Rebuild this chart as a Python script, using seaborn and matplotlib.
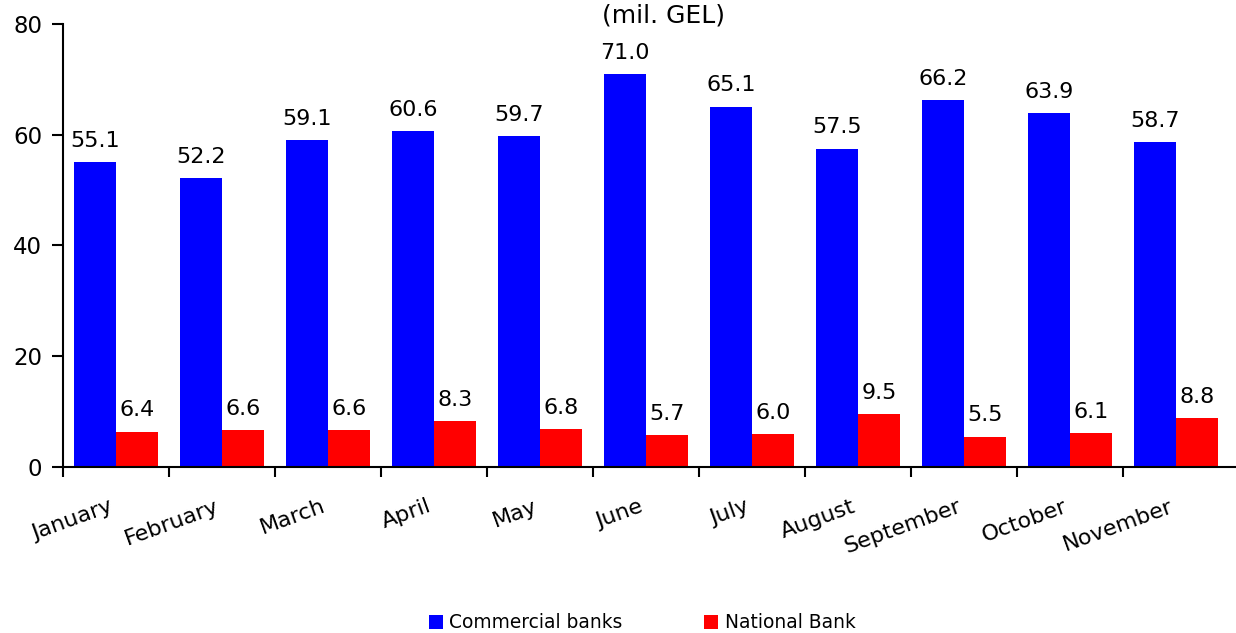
import matplotlib
matplotlib.use("Agg")
import matplotlib.pyplot as plt
import matplotlib.transforms as mtrans
from matplotlib.patches import Patch
import seaborn as sns
import pandas as pd
import numpy as np

months = ["January", "February", "March", "April", "May", "June", "July",
          "August", "September", "October", "November"]
commercial = [55.1, 52.2, 59.1, 60.6, 59.7, 71.0, 65.1, 57.5, 66.2, 63.9, 58.7]
national = [6.4, 6.6, 6.6, 8.3, 6.8, 5.7, 6.0, 9.5, 5.5, 6.1, 8.8]
series = ["Commercial banks", "National Bank"]
colors = {"Commercial banks": "#0000FF", "National Bank": "#FF0000"}

df = pd.DataFrame({
    "month": months * 2,
    "value": commercial + national,
    "series": [series[0]] * len(months) + [series[1]] * len(months),
})

sns.set_style("white")
plt.rcParams["font.family"] = ["DejaVu Sans"]
plt.rcParams["text.color"] = "black"
plt.rcParams["xtick.color"] = "black"
plt.rcParams["ytick.color"] = "black"

fig = plt.figure(figsize=(12.36, 6.33), dpi=100)
ax = fig.add_axes([63 / 1236, 1 - 467 / 633, (1236 - 63) / 1236, (467 - 24) / 633])

sns.barplot(data=df, x="month", y="value", hue="series", order=months,
            hue_order=series, palette=colors, saturation=1, width=0.79,
            legend=False, ax=ax, errorbar=None, linewidth=0, edgecolor="none")

for cont in ax.containers:
    ax.bar_label(cont, fmt="%.1f", padding=8, fontsize=16, color="black")

ax.set_ylim(0, 80)
ax.set_yticks([0, 20, 40, 60, 80])
ax.set_xlim(-0.5, 10.5 + 7 / 106)
ax.set_xlabel("")
ax.set_ylabel("")

ax.set_xticks(np.arange(len(months)))
ax.set_xticklabels(months, rotation=20, ha="right", va="top", rotation_mode="anchor")
ax.set_xticks(np.arange(-0.5, len(months) - 1, 1.0), minor=True)
ax.tick_params(axis="x", which="major", bottom=True, length=0, pad=21, labelsize=16,
               labelcolor="black")
ax.tick_params(axis="x", which="minor", bottom=True, length=7, width=1.5,
               direction="out", color="black")
ax.tick_params(axis="y", left=True, length=8, width=1.5, direction="out", color="black",
               labelsize=16.5, pad=7, labelcolor="black")
offset = mtrans.ScaledTranslation(-0.07, 0, fig.dpi_scale_trans)
for lab in ax.get_xticklabels():
    lab.set_transform(lab.get_transform() + offset)

for s in ["top", "right"]:
    ax.spines[s].set_visible(False)
for s in ["left", "bottom"]:
    ax.spines[s].set_color("black")
    ax.spines[s].set_linewidth(1.5)

fig.text(664 / 1236, 1 - 16 / 633, "(mil. GEL)", ha="center", va="center", fontsize=18)

handles = [Patch(facecolor=colors[s], edgecolor="none", label=s) for s in series]
fig.legend(handles=handles, loc="center", bbox_to_anchor=(642 / 1236, 1 - 623 / 633),
           ncol=2, frameon=False, fontsize=13.4, handlelength=0.75, handleheight=0.75,
           handletextpad=0.35, columnspacing=4.4)

fig.savefig("out.png", dpi=100)
